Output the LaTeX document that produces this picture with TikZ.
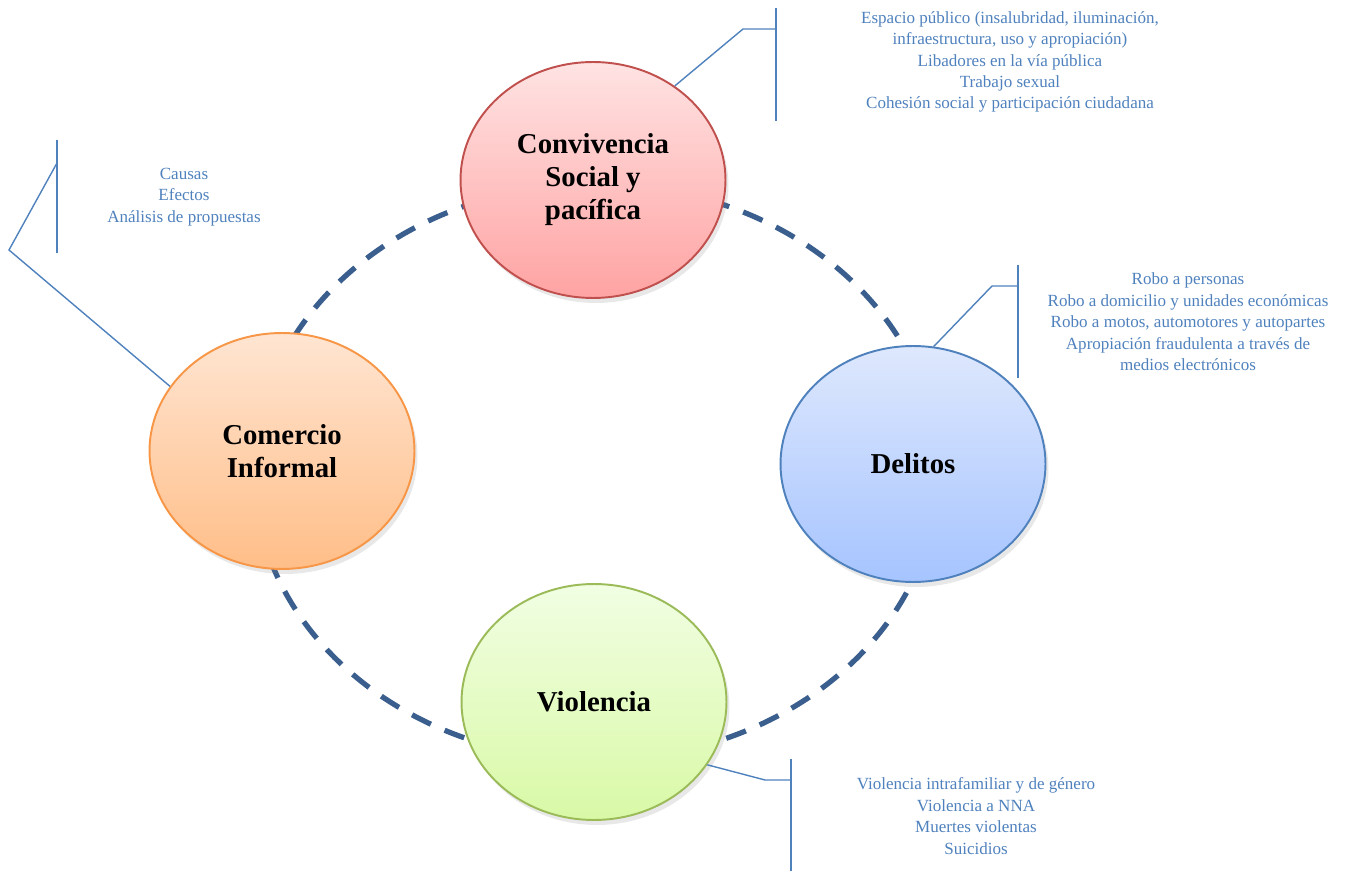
\documentclass[tikz,border=0pt]{standalone}
\usepackage{fontspec}
\setmainfont{Liberation Serif}
\usetikzlibrary{shapes.geometric,shadows}

\definecolor{notecol}{HTML}{4F81BD}
\definecolor{ringcol}{HTML}{3A5F8E}
\definecolor{convline}{HTML}{C0504D}
\definecolor{convtop}{HTML}{FFE3E3}
\definecolor{convbot}{HTML}{FFA3A3}
\definecolor{comline}{HTML}{F79646}
\definecolor{comtop}{HTML}{FFE5D2}
\definecolor{combot}{HTML}{FFBE88}
\definecolor{delline}{HTML}{4F81BD}
\definecolor{deltop}{HTML}{DEE8FD}
\definecolor{delbot}{HTML}{A6C4FF}
\definecolor{violine}{HTML}{9BBB59}
\definecolor{viotop}{HTML}{F1FEE3}
\definecolor{viobot}{HTML}{D9F9A6}

\begin{document}
\begin{tikzpicture}[x=0.02cm,y=-0.02cm,
    topic/.style={shape=ellipse,line width=1.1pt,minimum width=5.3cm,minimum height=4.72cm,
        inner sep=0pt,align=center,font=\fontsize{16.4}{18.8}\selectfont\bfseries,
        drop shadow={opacity=0.18,shadow xshift=0.06cm,shadow yshift=-0.1cm}},
    note/.style={align=center,text=notecol,inner sep=0pt,font=\fontsize{9.7}{12.2}\selectfont},
    lead/.style={draw=notecol,line width=0.8pt},
    ring/.style={draw=ringcol,line width=3pt,dash pattern=on 0.42cm off 0.3cm}]
    \useasboundingbox (0,0) rectangle (1370,871);

    % dashed cycle behind the topics
    \coordinate (ring) at (596,472);
    \draw[ring] (ring) ellipse [x radius=6.84cm, y radius=5.76cm];

    \node[topic,draw=convline,top color=convtop,bottom color=convbot] (conv) at (593,180) {Convivencia\\Social y\\pacífica};
    \node[topic,draw=comline,top color=comtop,bottom color=combot] (com) at (282,451) {Comercio\\Informal};
    \node[topic,draw=delline,top color=deltop,bottom color=delbot] (del) at (913,464) {Delitos};
    \node[topic,draw=violine,top color=viotop,bottom color=viobot] (vio) at (594,702) {Violencia};

    % notes
    \node[note] (convnote) at (1010,62) {Espacio público (insalubridad, iluminación,\\infraestructura, uso y apropiación)\\Libadores en la vía pública\\Trabajo sexual\\Cohesión social y participación ciudadana};
    \node[note] (comnote) at (184,197) {Causas\\Efectos\\Análisis de propuestas};
    \node[note] (delnote) at (1188,322) {Robo a personas\\Robo a domicilio y unidades económicas\\Robo a motos, automotores y autopartes\\Apropiación fraudulenta a través de\\medios electrónicos};
    \node[note] (vionote) at (976,816) {Violencia intrafamiliar y de género\\Violencia a NNA\\Muertes violentas\\Suicidios};

    % brackets
    \coordinate (convbend) at (743,29);
    \coordinate (convbrk) at (776,29);
    \coordinate (convtop) at (776,8);
    \coordinate (convbot) at (776,121);
    \coordinate (combend) at (9,250);
    \coordinate (combrk) at (57,163);
    \coordinate (comtop) at (57,140);
    \coordinate (combot) at (57,253);
    \coordinate (delbend) at (992,286);
    \coordinate (delbrk) at (1018,286);
    \coordinate (deltop) at (1018,265);
    \coordinate (delbot) at (1018,378);
    \coordinate (viobend) at (765,780);
    \coordinate (viobrk) at (791,780);
    \coordinate (viotop) at (791,759);
    \coordinate (viobot) at (791,871);

    \draw[lead] (conv.49) -- (convbend) -- (convbrk);
    \draw[lead] (convtop) -- (convbot);
    \draw[lead] (com.150) -- (combend) -- (combrk);
    \draw[lead] (comtop) -- (combot);
    \draw[lead] (del.80) -- (delbend) -- (delbrk);
    \draw[lead] (deltop) -- (delbot);
    \draw[lead] (vio.-29) -- (viobend) -- (viobrk);
    \draw[lead] (viotop) -- (viobot);

\end{tikzpicture}
\end{document}
